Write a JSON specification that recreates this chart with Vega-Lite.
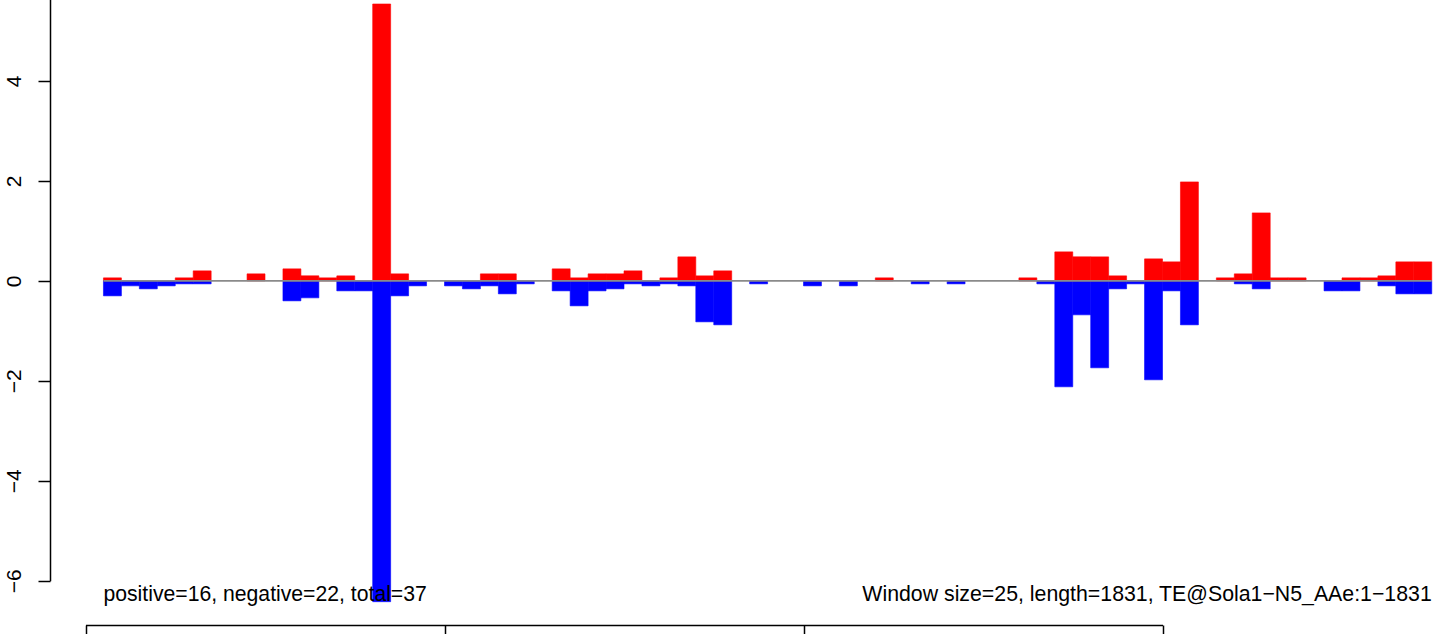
{
  "$schema": "https://vega.github.io/schema/vega-lite/v6.json",
  "width": 1394,
  "height": 625,
  "autosize": {"type": "none"},
  "padding": {"left": 50, "top": 0, "right": 0, "bottom": 9},
  "background": "white",
  "config": {
    "view": {"stroke": null},
    "font": "Liberation Sans",
    "axis": {
      "grid": false,
      "domainColor": "black",
      "tickColor": "black",
      "domainWidth": 1.5,
      "tickWidth": 1.5,
      "tickSize": 12,
      "labelFont": "Liberation Sans",
      "labelFontSize": 21,
      "labelColor": "black",
      "labelOverlap": false,
      "labelFlush": false,
      "labelBound": false
    }
  },
  "datasets": {
    "bins": [
      {"start": 25, "end": 50, "pos": 0.06, "neg": -0.3},
      {"start": 50, "end": 75, "pos": 0, "neg": -0.1},
      {"start": 75, "end": 100, "pos": 0, "neg": -0.16},
      {"start": 100, "end": 125, "pos": 0, "neg": -0.1},
      {"start": 125, "end": 150, "pos": 0.06, "neg": -0.06},
      {"start": 150, "end": 175, "pos": 0.2, "neg": -0.06},
      {"start": 175, "end": 200, "pos": 0, "neg": 0},
      {"start": 200, "end": 225, "pos": 0, "neg": 0},
      {"start": 225, "end": 250, "pos": 0.14, "neg": 0},
      {"start": 250, "end": 275, "pos": 0, "neg": 0},
      {"start": 275, "end": 300, "pos": 0.24, "neg": -0.4},
      {"start": 300, "end": 325, "pos": 0.1, "neg": -0.34},
      {"start": 325, "end": 350, "pos": 0.06, "neg": 0},
      {"start": 350, "end": 375, "pos": 0.1, "neg": -0.2},
      {"start": 375, "end": 400, "pos": 0, "neg": -0.2},
      {"start": 400, "end": 425, "pos": 5.54, "neg": -6.42},
      {"start": 425, "end": 450, "pos": 0.14, "neg": -0.3},
      {"start": 450, "end": 475, "pos": 0, "neg": -0.1},
      {"start": 475, "end": 500, "pos": 0, "neg": 0},
      {"start": 500, "end": 525, "pos": 0, "neg": -0.1},
      {"start": 525, "end": 550, "pos": 0, "neg": -0.16},
      {"start": 550, "end": 575, "pos": 0.14, "neg": -0.1},
      {"start": 575, "end": 600, "pos": 0.14, "neg": -0.26},
      {"start": 600, "end": 625, "pos": 0, "neg": -0.06},
      {"start": 625, "end": 650, "pos": 0, "neg": 0},
      {"start": 650, "end": 675, "pos": 0.24, "neg": -0.2},
      {"start": 675, "end": 700, "pos": 0.06, "neg": -0.5},
      {"start": 700, "end": 725, "pos": 0.14, "neg": -0.2},
      {"start": 725, "end": 750, "pos": 0.14, "neg": -0.16},
      {"start": 750, "end": 775, "pos": 0.2, "neg": -0.06},
      {"start": 775, "end": 800, "pos": 0, "neg": -0.1},
      {"start": 800, "end": 825, "pos": 0.06, "neg": -0.06},
      {"start": 825, "end": 850, "pos": 0.48, "neg": -0.1},
      {"start": 850, "end": 875, "pos": 0.1, "neg": -0.82},
      {"start": 875, "end": 900, "pos": 0.2, "neg": -0.88},
      {"start": 900, "end": 925, "pos": 0, "neg": 0},
      {"start": 925, "end": 950, "pos": 0, "neg": -0.06},
      {"start": 950, "end": 975, "pos": 0, "neg": 0},
      {"start": 975, "end": 1000, "pos": 0, "neg": 0},
      {"start": 1000, "end": 1025, "pos": 0, "neg": -0.1},
      {"start": 1025, "end": 1050, "pos": 0, "neg": 0},
      {"start": 1050, "end": 1075, "pos": 0, "neg": -0.1},
      {"start": 1075, "end": 1100, "pos": 0, "neg": 0},
      {"start": 1100, "end": 1125, "pos": 0.06, "neg": 0},
      {"start": 1125, "end": 1150, "pos": 0, "neg": 0},
      {"start": 1150, "end": 1175, "pos": 0, "neg": -0.06},
      {"start": 1175, "end": 1200, "pos": 0, "neg": 0},
      {"start": 1200, "end": 1225, "pos": 0, "neg": -0.06},
      {"start": 1225, "end": 1250, "pos": 0, "neg": 0},
      {"start": 1250, "end": 1275, "pos": 0, "neg": 0},
      {"start": 1275, "end": 1300, "pos": 0, "neg": 0},
      {"start": 1300, "end": 1325, "pos": 0.06, "neg": 0},
      {"start": 1325, "end": 1350, "pos": 0, "neg": -0.06},
      {"start": 1350, "end": 1375, "pos": 0.58, "neg": -2.12},
      {"start": 1375, "end": 1400, "pos": 0.48, "neg": -0.68},
      {"start": 1400, "end": 1425, "pos": 0.48, "neg": -1.74},
      {"start": 1425, "end": 1450, "pos": 0.1, "neg": -0.16},
      {"start": 1450, "end": 1475, "pos": 0, "neg": -0.06},
      {"start": 1475, "end": 1500, "pos": 0.44, "neg": -1.98},
      {"start": 1500, "end": 1525, "pos": 0.38, "neg": -0.2},
      {"start": 1525, "end": 1550, "pos": 1.98, "neg": -0.88},
      {"start": 1550, "end": 1575, "pos": 0, "neg": 0},
      {"start": 1575, "end": 1600, "pos": 0.06, "neg": 0},
      {"start": 1600, "end": 1625, "pos": 0.14, "neg": -0.06},
      {"start": 1625, "end": 1650, "pos": 1.36, "neg": -0.16},
      {"start": 1650, "end": 1675, "pos": 0.06, "neg": 0},
      {"start": 1675, "end": 1700, "pos": 0.06, "neg": 0},
      {"start": 1700, "end": 1725, "pos": 0, "neg": 0},
      {"start": 1725, "end": 1750, "pos": 0, "neg": -0.2},
      {"start": 1750, "end": 1775, "pos": 0.06, "neg": -0.2},
      {"start": 1775, "end": 1800, "pos": 0.06, "neg": 0},
      {"start": 1800, "end": 1825, "pos": 0.1, "neg": -0.1},
      {"start": 1825, "end": 1850, "pos": 0.38, "neg": -0.26},
      {"start": 1850, "end": 1875, "pos": 0.38, "neg": -0.26}
    ],
    "notes": [
      {"label": "positive=16, negative=22, total=37", "x": 25, "y": -6.4, "side": "left"},
      {"label": "Window size=25, length=1831, TE@Sola1−N5_AAe:1−1831", "x": 1875, "y": -6.4, "side": "right"}
    ]
  },
  "layer": [
    {
      "data": {"name": "bins"},
      "transform": [{"filter": "datum.pos > 0"}],
      "mark": {"type": "bar", "color": "#FF0000", "stroke": "#FF0000", "strokeWidth": 0.6},
      "encoding": {
        "x": {"field": "start", "type": "quantitative",
              "scale": {"domain": [0, 1500], "range": [35.5, 1112.5], "nice": false, "zero": false},
              "axis": {"title": null, "values": [0, 500, 1000, 1500], "orient": "bottom", "labels": false}},
        "x2": {"field": "end"},
        "y": {"field": "pos", "type": "quantitative",
              "scale": {"domain": [-6, 6], "range": [580.7, -19], "nice": false, "zero": false},
              "axis": {"title": null, "values": [-6, -4, -2, 0, 2, 4], "orient": "left",
                       "labelAngle": 270, "labelAlign": "center", "labelBaseline": "alphabetic", "labelPadding": 18}},
        "y2": {"datum": 0}
      }
    },
    {
      "data": {"name": "bins"},
      "transform": [{"filter": "datum.neg < 0"}],
      "mark": {"type": "bar", "color": "#0000FF", "stroke": "#0000FF", "strokeWidth": 0.6},
      "encoding": {
        "x": {"field": "start", "type": "quantitative", "axis": {"title": null, "values": [0, 500, 1000, 1500], "orient": "bottom", "labels": false}},
        "x2": {"field": "end"},
        "y": {"field": "neg", "type": "quantitative",
              "axis": {"title": null, "values": [-6, -4, -2, 0, 2, 4], "orient": "left",
                       "labelAngle": 270, "labelAlign": "center", "labelBaseline": "alphabetic", "labelPadding": 18}},
        "y2": {"datum": 0}
      }
    },
    {
      "data": {"values": [{"x": 25, "x2": 1875, "y": 0}]},
      "mark": {"type": "rule", "color": "#8a8a8a", "strokeWidth": 1.8},
      "encoding": {
        "x": {"field": "x", "type": "quantitative", "axis": {"title": null, "values": [0, 500, 1000, 1500], "orient": "bottom", "labels": false}},
        "x2": {"field": "x2"},
        "y": {"field": "y", "type": "quantitative",
              "axis": {"title": null, "values": [-6, -4, -2, 0, 2, 4], "orient": "left",
                       "labelAngle": 270, "labelAlign": "center", "labelBaseline": "alphabetic", "labelPadding": 18}}
      }
    },
    {
      "data": {"name": "notes"},
      "transform": [{"filter": "datum.side === 'left'"}],
      "mark": {"type": "text", "align": "left", "baseline": "alphabetic", "font": "Liberation Sans", "fontSize": 21.2, "color": "black"},
      "encoding": {
        "x": {"field": "x", "type": "quantitative", "axis": {"title": null, "values": [0, 500, 1000, 1500], "orient": "bottom", "labels": false}},
        "y": {"field": "y", "type": "quantitative",
              "axis": {"title": null, "values": [-6, -4, -2, 0, 2, 4], "orient": "left",
                       "labelAngle": 270, "labelAlign": "center", "labelBaseline": "alphabetic", "labelPadding": 18}},
        "text": {"field": "label"}
      }
    },
    {
      "data": {"name": "notes"},
      "transform": [{"filter": "datum.side === 'right'"}],
      "mark": {"type": "text", "align": "right", "baseline": "alphabetic", "font": "Liberation Sans", "fontSize": 21.3, "color": "black"},
      "encoding": {
        "x": {"field": "x", "type": "quantitative", "axis": {"title": null, "values": [0, 500, 1000, 1500], "orient": "bottom", "labels": false}},
        "y": {"field": "y", "type": "quantitative",
              "axis": {"title": null, "values": [-6, -4, -2, 0, 2, 4], "orient": "left",
                       "labelAngle": 270, "labelAlign": "center", "labelBaseline": "alphabetic", "labelPadding": 18}},
        "text": {"field": "label"}
      }
    }
  ]
}
